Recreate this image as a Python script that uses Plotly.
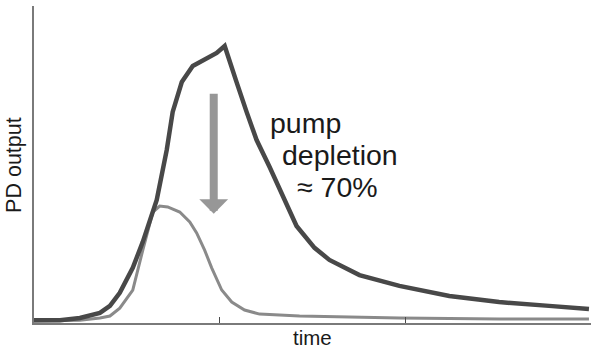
import plotly.graph_objects as go

# Pump pulse without signal (undepleted) - dark trace
dark_x = [0, 0.14, 0.247, 0.355, 0.409, 0.462, 0.532, 0.586, 0.661, 0.715, 0.747, 0.796,
          0.855, 0.919, 0.984, 1.027, 1.054, 1.091, 1.145, 1.199, 1.269, 1.339, 1.414,
          1.511, 1.591, 1.753, 1.968, 2.237, 2.505, 2.774, 2.989]
dark_y = [0.009, 0.009, 0.016, 0.032, 0.054, 0.095, 0.174, 0.256, 0.388, 0.546, 0.666, 0.760,
          0.811, 0.830, 0.852, 0.874, 0.823, 0.760, 0.666, 0.577, 0.492, 0.401, 0.306,
          0.237, 0.199, 0.151, 0.117, 0.085, 0.066, 0.054, 0.044]

# Depleted pump - light trace
light_x = [0, 0.247, 0.355, 0.409, 0.462, 0.532, 0.586, 0.640, 0.677, 0.720, 0.785, 0.839,
           0.876, 0.919, 0.957, 1.011, 1.065, 1.134, 1.215, 1.430, 1.968, 2.505, 2.989]
light_y = [0.006, 0.009, 0.016, 0.022, 0.047, 0.104, 0.230, 0.350, 0.369, 0.366, 0.350, 0.319,
           0.284, 0.230, 0.174, 0.104, 0.066, 0.041, 0.028, 0.022, 0.016, 0.013, 0.013]

x_ticks = [1, 2, 3]
label_lines = ["pump", "depletion", "\u2248 70%"]

fig = go.Figure()
fig.add_trace(go.Scatter(x=light_x, y=light_y, mode="lines",
                         line=dict(color="#8a8a8a", width=3), showlegend=False))
fig.add_trace(go.Scatter(x=dark_x, y=dark_y, mode="lines",
                         line=dict(color="#484848", width=4.5), showlegend=False))

font = "Liberation Sans, Arial, sans-serif"

# arrow
fig.add_annotation(x=0.968, y=0.345, ax=0.968, ay=0.728, xref="x", yref="y",
                   axref="x", ayref="y", showarrow=True, text="",
                   arrowhead=1, arrowwidth=8, arrowsize=0.6, arrowcolor="#979797")

# text
pos = [(1.258, 0.63), (1.325, 0.53), (1.405, 0.43)]
for (tx, ty), t in zip(pos, label_lines):
    fig.add_annotation(x=tx, y=ty, xref="x", yref="y", text=t, showarrow=False,
                       xanchor="left", yanchor="middle",
                       font=dict(family=font, size=28.5, color="#1a1a1a"))

# axis titles
fig.add_annotation(x=0.5, y=-0.047, xref="paper", yref="paper", text="time",
                   showarrow=False, xanchor="center", yanchor="middle",
                   font=dict(family=font, size=20.5, color="#1a1a1a"))
fig.add_annotation(x=-0.037, y=0.5, xref="paper", yref="paper", text="PD output",
                   showarrow=False, xanchor="center", yanchor="middle", textangle=-90,
                   font=dict(family=font, size=21.5, color="#1a1a1a"))

fig.update_layout(
    width=592, height=350,
    margin=dict(l=34, r=1, t=6, b=27),
    paper_bgcolor="white", plot_bgcolor="white",
    xaxis=dict(range=[0, 3.0], showgrid=False, zeroline=False, showline=True,
               linecolor="#7a7a7a", linewidth=1.5, tickvals=x_ticks, ticks="inside",
               ticklen=6, tickcolor="#4a4a4a", showticklabels=False),
    yaxis=dict(range=[0, 1], showgrid=False, zeroline=False, showline=True,
               linecolor="#7a7a7a", linewidth=1.5, showticklabels=False, ticks=""),
)
fig.write_html("out.html")
